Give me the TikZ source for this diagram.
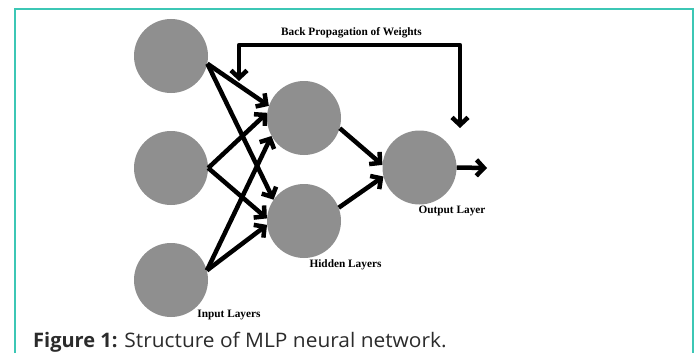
\documentclass[tikz,border=0pt]{standalone}
\usepackage{fontspec}
\usepackage{graphicx}
\setmainfont{Liberation Serif}
\newfontfamily\capfont{Open Sans}
\usetikzlibrary{arrows.meta}
\definecolor{frameteal}{HTML}{3CC7B5}
\definecolor{neurongray}{HTML}{8F8F8F}
\definecolor{captext}{HTML}{2B2B2B}
\tikzset{
  neuron/.style={circle, fill=neurongray, draw=none, minimum size=74pt, inner sep=0pt},
  barb/.tip={Straight Barb[length=7.5pt,width=16pt]},
  conn/.style={line width=4.5pt, -barb},
  both/.style={line width=4.5pt, barb-barb},
  lbl/.style={font=\fontsize{11.3}{12}\selectfont\bfseries, inner sep=0pt, anchor=base},
}
\begin{document}
\begin{tikzpicture}[x=1pt,y=-1pt]
\useasboundingbox (0,0) rectangle (695,353);
% frame
\draw[frameteal, line width=1.5pt] (15,353) -- (15,9) -- (693,9) -- (693,353);
% neurons
\node[neuron] (i1) at (171,56) {};
\node[neuron] (i2) at (171,168) {};
\node[neuron] (i3) at (171,280) {};
\node[neuron] (h1) at (304,118) {};
\node[neuron] (h2) at (304,221) {};
\node[neuron] (o) at (419.5,167.5) {};
% input -> hidden
\draw[conn] (i1.-12) -- (h1.161);
\draw[conn] (i1.-12) -- (h2.145);
\draw[conn] (i2.0) -- (h1.172);
\draw[conn] (i2.0) -- (h2.176);
\draw[conn] (i3.15) -- (h1.209);
\draw[conn] (i3.15) -- (h2.186);
% hidden -> output
\draw[conn] (h1.-16) -- (o.176);
\draw[conn] (h2.21) -- (o.194);
% output arrow
\coordinate (oend) at (487,168);
\draw[conn] (o.0) -- (oend);
% back propagation
\coordinate (bpl) at (239,81);
\coordinate (bpr) at (460,128);
\draw[both, line join=round] (bpl) -- (239,45) -- (460,45) -- (bpr);
% labels
\node[lbl] (tbp) at (351.5,36) {Back Propagation of Weights};
\node[lbl] (tin) at (229,317) {Input Layers};
\node[lbl] (thid) at (345.5,267) {Hidden Layers};
\node[lbl] (tout) at (452,213) {Output Layer};
% caption
\node[anchor=base west, inner sep=0pt, text=captext, font=\capfont\fontsize{20}{23}\selectfont] (cap) at (33,347) {\textbf{Figure 1:} \scalebox{1.045}[1]{Structure of MLP neural network.}};
\end{tikzpicture}
\end{document}
